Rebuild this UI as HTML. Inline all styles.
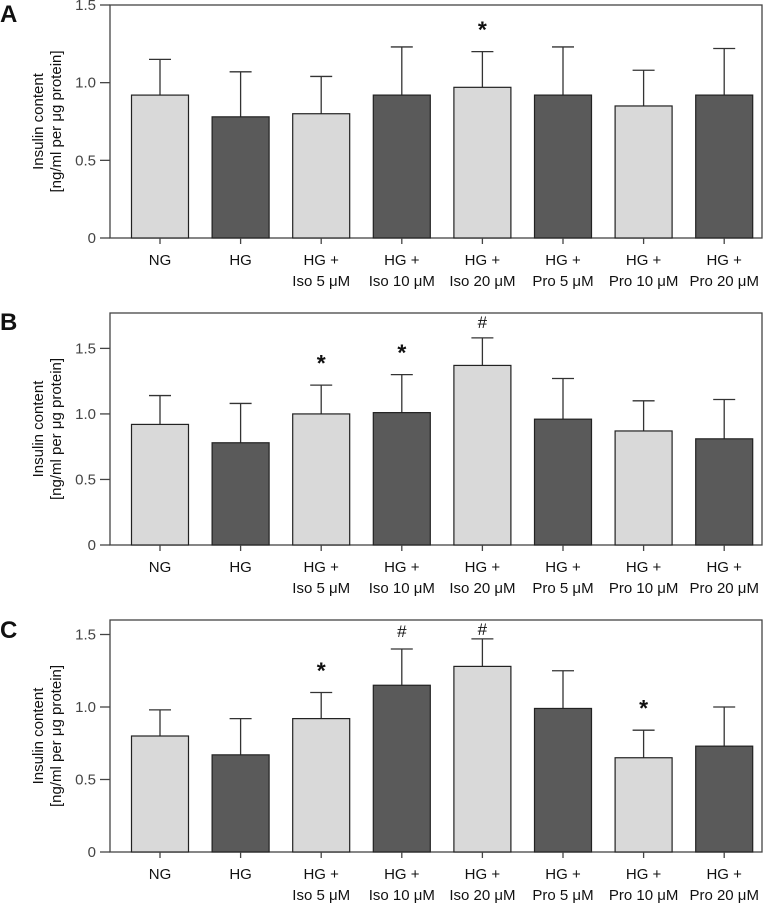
<!DOCTYPE html>
<html><head><meta charset="utf-8"><style>
html,body{margin:0;padding:0;background:#fff;}
svg{display:block;font-family:"Liberation Sans",sans-serif;}
</style></head><body>
<svg id="chart" width="764" height="903" viewBox="0 0 764 903" xmlns="http://www.w3.org/2000/svg"></svg>
<script>
const categories = ["NG","HG","HG +|Iso 5 μM","HG +|Iso 10 μM","HG +|Iso 20 μM","HG +|Pro 5 μM","HG +|Pro 10 μM","HG +|Pro 20 μM"];
const meansA = [0.92,0.78,0.80,0.92,0.97,0.92,0.85,0.92];
const errTopA = [1.15,1.07,1.04,1.23,1.20,1.23,1.08,1.22];
const marksA = ["","","","","*","","",""];
const meansB = [0.92,0.78,1.00,1.01,1.37,0.96,0.87,0.81];
const errTopB = [1.14,1.08,1.22,1.30,1.58,1.27,1.10,1.11];
const marksB = ["","","*","*","#","","",""];
const meansC = [0.80,0.67,0.92,1.15,1.28,0.99,0.65,0.73];
const errTopC = [0.98,0.92,1.10,1.40,1.47,1.25,0.84,1.00];
const marksC = ["","","*","#","#","","*",""];
const yTicks = [0,0.5,1.0,1.5];
const yTickLabels = ["0","0.5","1.0","1.5"];

const NS="http://www.w3.org/2000/svg";
const svg=document.getElementById('chart');
function mk(tag,attrs,parent){const e=document.createElementNS(NS,tag);for(const k in attrs)e.setAttribute(k,attrs[k]);(parent||svg).appendChild(e);return e;}

const panels=[
 {letter:"A",means:meansA,err:errTopA,marks:marksA,top:5,zero:238,max:1.5,ly:22},
 {letter:"B",means:meansB,err:errTopB,marks:marksB,top:313,zero:545,max:1.77,ly:330},
 {letter:"C",means:meansC,err:errTopC,marks:marksC,top:620,zero:852,max:1.6,ly:638}
];
const left=110,right=762,x0=160,step=80.6,bw=57;

panels.forEach(p=>{
 const g=mk('g',{});
 
 
 const y=v=>p.zero-(v/p.max)*(p.zero-p.top);
 const x=i=>x0+i*step;
 const lt=mk('text',{x:0,y:p.ly,'font-size':24,'font-weight':'bold',fill:'#111'},g);
 lt.textContent=p.letter;
 
 
 const fr=mk('rect',{x:left,y:p.top,width:right-left,height:p.zero-p.top,fill:'none',stroke:'#444','stroke-width':1.3},g);
 
 
 yTicks.forEach((t,i)=>{
  const yy=y(t);
  const tl=mk('line',{x1:100,x2:left,y1:yy,y2:yy,stroke:'#444','stroke-width':1.3},g);
  
  
  const tx=mk('text',{x:96,y:yy+5,'text-anchor':'end','font-size':15,fill:'#444'},g);
  tx.textContent=yTickLabels[i];
  
  
 });
 const cy=(p.top+p.zero)/2;
 const at=mk('text',{transform:`translate(43,${cy}) rotate(-90)`,'text-anchor':'middle','font-size':15,fill:'#111'},g);
 at.textContent='Insulin content';
 
 
 const at2=mk('text',{transform:`translate(61,${cy}) rotate(-90)`,'text-anchor':'middle','font-size':15,fill:'#111'},g);
 at2.textContent='[ng/ml per μg protein]';
 
 
 p.means.forEach((m,i)=>{
  const cx=x(i);
  const el=mk('line',{x1:cx,x2:cx,y1:y(p.err[i]),y2:y(m),stroke:'#333','stroke-width':1.3},g);
  
  
  const ec=mk('line',{x1:cx-11,x2:cx+11,y1:y(p.err[i]),y2:y(p.err[i]),stroke:'#333','stroke-width':1.3},g);
  
  
  const r=mk('rect',{x:cx-bw/2,y:y(m),width:bw,height:p.zero-y(m),fill:i%2===0?'#d9d9d9':'#5a5a5a',stroke:'#222','stroke-width':1.2},g);
  
  
  const tk=mk('line',{x1:cx,x2:cx,y1:p.zero,y2:p.zero+6,stroke:'#444','stroke-width':1.3},g);
  
  
  const parts=categories[i].split('|');
  parts.forEach((s,j)=>{
   const t=mk('text',{x:cx,y:p.zero+27+j*21,'text-anchor':'middle','font-size':15,fill:'#111'},g);
   t.textContent=s;
   
   
  });
  if(p.marks[i]){
   const star=p.marks[i]==='*';
   const my=Math.max(y(p.err[i])-(star?14:12),p.top+15);
   const t=mk('text',{x:cx,y:my,'text-anchor':'middle','font-size':star?23:17,'font-weight':star?'bold':'normal',fill:'#111'},g);
   t.textContent=p.marks[i];
   
   
  }
 });
});
</script>
</body></html>
